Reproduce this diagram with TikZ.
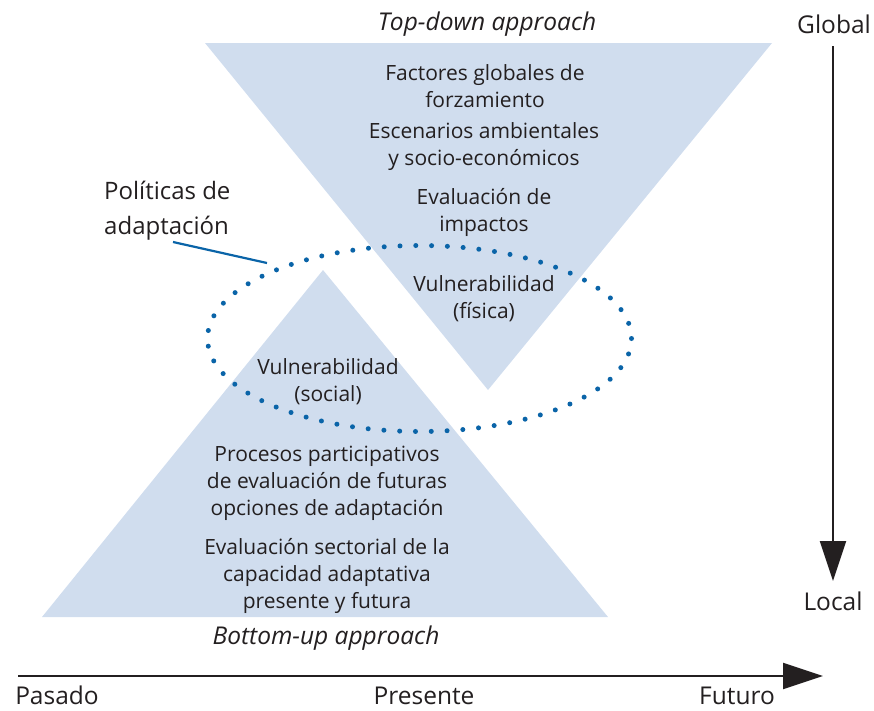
\documentclass[tikz,border=0pt]{standalone}
\usepackage{fontspec}
\setmainfont{Open Sans}
\usetikzlibrary{arrows.meta}
\definecolor{tri}{HTML}{D0DDEE}
\definecolor{dotblue}{HTML}{0A64A8}
\definecolor{txt}{HTML}{231F20}
\begin{document}
\begin{tikzpicture}[x=1pt,y=-1pt,
  lbl/.style={font=\fontsize{21}{27}\selectfont, text=txt, align=center, inner sep=0pt},
  big/.style={font=\fontsize{24.5}{30}\selectfont, text=txt, inner sep=0pt},
  ital/.style={font=\fontsize{24.5}{30}\selectfont\itshape, text=txt, align=center, inner sep=0pt},
  axis/.style={line width=2pt, draw=txt, -{Triangle[length=40pt,width=26pt]}},
  every node/.style={text=txt}]
\useasboundingbox (0,0) rectangle (874,710);
% triangles
\fill[tri] (205,43) -- (772,43) -- (488,390) -- cycle;
\fill[tri] (323,270) -- (608,617) -- (42,617) -- cycle;
% dotted ellipse
\draw[dotblue, line width=5pt, line cap=round, dash pattern=on 0pt off 15.8pt] (419.5,338.5) ellipse [x radius=212, y radius=93];
% labels in top triangle
\node[lbl] (t1) at (485,86) {Factores globales de\\forzamiento};
\node[lbl] (t2) at (484,147) {Escenarios ambientales\\y socio-económicos};
\node[lbl] (t3) at (484,212) {Evaluación de\\impactos};
\node[lbl] (t4) at (484,299) {Vulnerabilidad\\(física)};
% labels in bottom triangle
\node[lbl] (b1) at (328,382) {Vulnerabilidad\\(social)};
\node[lbl] (b2) at (327,483) {Procesos participativos\\de evaluación de futuras\\opciones de adaptación};
\node[lbl] (b3) at (327,576) {Evaluación sectorial de la\\capacidad adaptativa\\presente y futura};
% approach labels
\node[ital] (td) at (487,24) {Top-down approach};
\node[ital] (bu) at (326,638) {Bottom-up approach};
% politicas
\node[font=\fontsize{24}{35}\selectfont, align=left, anchor=west, inner sep=0pt] (pol) at (104,211) {Políticas de\\adaptación};
\coordinate (polA) at (173,242);
\coordinate (polB) at (267,263);
\draw[dotblue, line width=2.2pt] (polA) -- (polB);
% axes
\node[big] (glob) at (834,24) {Global};
\node[big] (loc) at (833,601) {Local};
\coordinate (vtop) at (833,46);
\coordinate (vbot) at (833,581);
\draw[axis] (vtop) -- (vbot);
\coordinate (hl) at (18,676);
\coordinate (hr) at (823,676);
\draw[axis] (hl) -- (hr);
\node[big, anchor=base] (pas) at (57,704) {Pasado};
\node[big, anchor=base] (pre) at (424,704) {Presente};
\node[big, anchor=base] (fut) at (737,704) {Futuro};
\end{tikzpicture}
\end{document}
